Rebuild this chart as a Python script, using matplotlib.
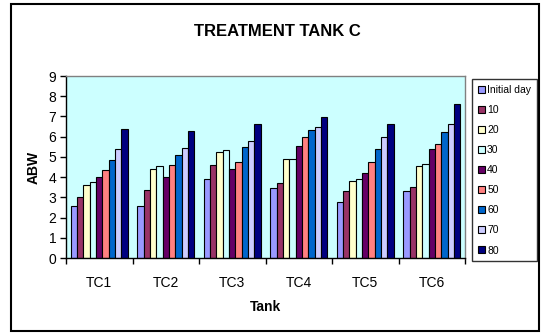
import matplotlib
matplotlib.use("Agg")
import matplotlib.pyplot as plt
import numpy as np
from matplotlib.patches import Rectangle

plt.rcParams['font.family'] = ['Liberation Sans', 'DejaVu Sans']

tanks = ["TC1", "TC2", "TC3", "TC4", "TC5", "TC6"]
series_names = ["Initial day", "10", "20", "30", "40", "50", "60", "70", "80"]
colors = ["#9999FF", "#993366", "#FFFFCC", "#CCFFFF", "#660066", "#FF8080", "#0066CC", "#CCCCFF", "#000080"]

initial = [2.56, 2.59, 3.91, 3.47, 2.79, 3.29]
d10 = [3.04, 3.34, 4.59, 3.72, 3.29, 3.52]
d20 = [3.62, 4.38, 5.25, 4.89, 3.81, 4.54]
d30 = [3.77, 4.54, 5.35, 4.92, 3.91, 4.67]
d40 = [4.01, 4.01, 4.38, 5.52, 4.18, 5.37]
d50 = [4.36, 4.59, 4.77, 5.99, 4.77, 5.65]
d60 = [4.87, 5.07, 5.50, 6.32, 5.37, 6.21]
d70 = [5.40, 5.45, 5.80, 6.46, 5.98, 6.62]
d80 = [6.37, 6.28, 6.62, 6.95, 6.62, 7.63]
series = [initial, d10, d20, d30, d40, d50, d60, d70, d80]

W, H = 541, 333
fig = plt.figure(figsize=(W / 100, H / 100), dpi=100)

def px(x0, y0, x1, y1):
    return [x0 / W, 1 - y1 / H, (x1 - x0) / W, (y1 - y0) / H]

# outer chart border
fig.patches.append(Rectangle((11 / W, 1 - 331 / H), (539 - 11) / W, (331 - 4) / H,
                             transform=fig.transFigure, fill=False, edgecolor='black', linewidth=1.5))

ax = fig.add_axes(px(66, 76, 465, 258))
ax.set_facecolor('#CCFFFF')

n = len(series)
bw = 1.0 / (n + 1.5)
x = np.arange(len(tanks))
for i, (vals, c, name) in enumerate(zip(series, colors, series_names)):
    offs = (i - (n - 1) / 2) * bw
    ax.bar(x + 0.5 + offs, vals, width=bw, color=c, edgecolor='black', linewidth=0.8, label=name)

ax.set_xlim(0, len(tanks))
ax.set_ylim(0, 9)
ax.set_yticks(range(0, 10))
ax.set_xticks(np.arange(0, len(tanks) + 1))
ax.set_xticklabels([])
ax.set_xticks(x + 0.5, minor=True)
ax.set_xticklabels(tanks, minor=True)
ax.tick_params(axis='x', which='minor', length=0, pad=13, labelsize=10)
ax.tick_params(axis='x', which='major', length=4, direction='out', width=1)
ax.tick_params(axis='y', length=4, direction='out', width=1, labelsize=10, pad=3)
for s in ['top', 'right']:
    ax.spines[s].set_color('#808080')
    ax.spines[s].set_linewidth(1)
for s in ['left', 'bottom']:
    ax.spines[s].set_color('black')
    ax.spines[s].set_linewidth(1)

fig.text(277 / W, 1 - 31 / H, "TREATMENT TANK C", ha='center', va='center', fontsize=12, fontweight='bold')
fig.text(265 / W, 1 - 307 / H, "Tank", ha='center', va='center', fontsize=10, fontweight='bold')
fig.text(34 / W, 1 - 167 / H, "ABW", ha='center', va='center', fontsize=10, fontweight='bold', rotation=90)

leg = fig.legend(loc='upper left', bbox_to_anchor=(472 / W, 1 - 79 / H), frameon=True,
                 fontsize=7.5, handlelength=0.65, handleheight=0.65, handletextpad=0.25,
                 labelspacing=0.97, borderpad=0.55, borderaxespad=0, fancybox=False)
leg.get_frame().set_edgecolor('black')
leg.get_frame().set_linewidth(1)

fig.savefig("out.png", dpi=100)
